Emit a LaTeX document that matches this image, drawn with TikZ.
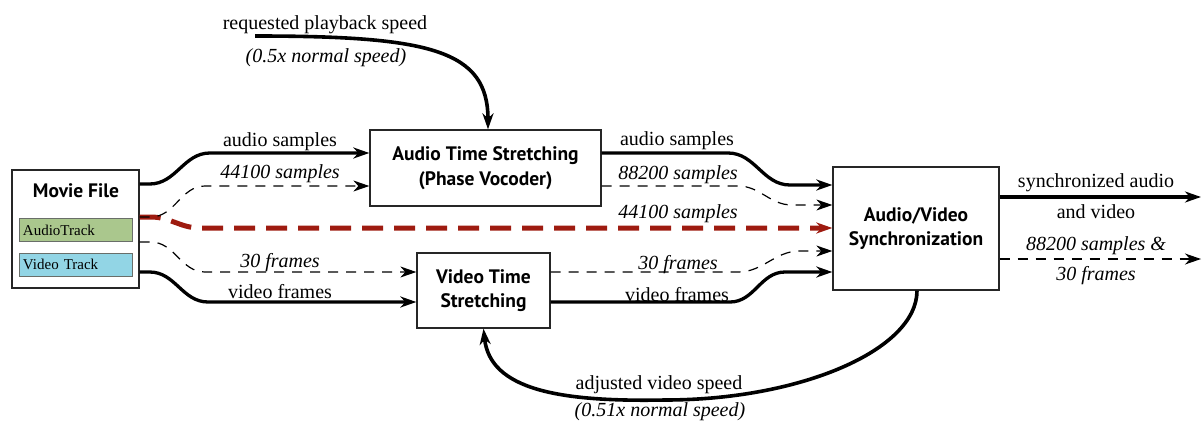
\documentclass[tikz,border=0pt]{standalone}
\usepackage{fontspec}
\setmainfont{Liberation Serif}
\newfontfamily\boxfont{PT Sans}
\usetikzlibrary{arrows.meta,calc}
\definecolor{dred}{RGB}{158,27,16}
\definecolor{agreen}{RGB}{170,199,141}
\definecolor{vblue}{RGB}{146,213,229}
\definecolor{trackedge}{RGB}{105,110,105}
\begin{document}
\begin{tikzpicture}[x=1pt,y=-1pt,
  tip/.style={-{Stealth[length=16pt,width=11pt,inset=5pt]}},
  thk/.style={line width=3.3pt, tip},
  heavy/.style={line width=3.6pt, tip},
  dsh/.style={line width=1.2pt, dash pattern=on 10pt off 8pt, tip},
  reddsh/.style={line width=5pt, dred, dash pattern=on 21pt off 11pt, tip},
  lbl/.style={font=\fontsize{20}{24}\selectfont, inner sep=0pt, anchor=base},
  ilbl/.style={font=\fontsize{20}{24}\selectfont\itshape, inner sep=0pt, anchor=base},
  boxtext/.style={font=\boxfont\bfseries\fontsize{19.5}{24.5}\selectfont},
  box/.style={draw=black!85, line width=1.3pt, align=center, inner sep=0pt, boxtext},
  track/.style={draw=trackedge, line width=1pt, text width=105pt, align=left,
    inner xsep=4pt, inner ysep=0pt, minimum height=23pt,
    font=\fontsize{15}{18}\selectfont}
]
\useasboundingbox (0,0) rectangle (1202,423);

% boxes
\node[box, minimum width=127pt, minimum height=118pt] (movie) at (75.5,229) {};
\node[boxtext, inner sep=0pt] (movielbl) at (76,191) {Movie File};
\node[track, fill=agreen] (atrack) at (75.5,230) {AudioTrack};
\node[track, fill=vblue] (vtrack) at (75.5,264.5) {Video Track};
\node[box, minimum width=231pt, minimum height=76pt] (atime) at (485.5,168) {Audio Time Stretching\\(Phase Vocoder)};
\node[box, minimum width=133pt, minimum height=75pt] (vtime) at (483.5,290.5) {Video Time\\Stretching};
\node[box, minimum width=166pt, minimum height=123pt] (sync) at (916,228.5) {Audio/Video\\Synchronization};

\coordinate (req) at (255,36);
\coordinate (out1) at (1201,197);
\coordinate (out2) at (1201,259);

% top request arrow
\draw[heavy] (req) .. controls (430,36) and (488,50) .. ([xshift=2.5pt]atime.north);
\node[lbl] (reqa) at (325,29) {requested playback speed};
\node[ilbl] (reqb) at (326,62) {(0.5x normal speed)};

% movie -> audio time stretching
\draw[reddsh] (movie.east |- 0,217) -- ++(11,0) to[out=0,in=180] (200,228) -- (sync.west |- 0,228);
\draw[dsh] (movie.east |- 0,217) -- ++(11,0) to[out=0,in=180] (205,186) -- (atime.west |- 0,186);
\draw[thk] (movie.east |- 0,184) -- ++(10,0) to[out=0,in=180] (210,153) -- (atime.west |- 0,153);
\node[lbl] (l1) at (280,146) {audio samples};
\node[ilbl] (l2) at (280,178) {44100 samples};

% movie -> video time stretching
\draw[dsh] (movie.east |- 0,242) -- ++(11,0) to[out=0,in=180] (205,272) -- (vtime.west |- 0,272);
\draw[thk] (movie.east |- 0,272) -- ++(10,0) to[out=0,in=180] (208,302) -- (vtime.west |- 0,302);
\node[ilbl] (l3) at (280,267) {30 frames};
\node[lbl] (l4) at (280,298) {video frames};

% audio time stretching -> sync
\draw[thk] (atime.east |- 0,153) -- (728,153) to[out=0,in=180] (790,185) -- (sync.west |- 0,185);
\draw[dsh] (atime.east |- 0,186) -- (738,186) to[out=0,in=180] (792,205) -- (sync.west |- 0,205);
\node[lbl] (r1) at (677,145) {audio samples};
\node[ilbl] (r2) at (678,179) {88200 samples};
\node[ilbl] (r3) at (678,218) {44100 samples};

% video time stretching -> sync
\draw[dsh] (vtime.east |- 0,272) -- (738,272) to[out=0,in=180] (800,251) -- (sync.west |- 0,251);
\draw[thk] (vtime.east |- 0,302) -- (730,302) to[out=0,in=180] (785,272) -- (sync.west |- 0,272);
\node[ilbl] (r4) at (678,269) {30 frames};
\node[lbl] (r5) at (677,301) {video frames};

% outputs
\draw[thk] (sync.east |- 0,197) -- (out1);
\draw[dsh] (sync.east |- 0,259) -- (out2);
\node[lbl] (o1) at (1096,187) {synchronized audio};
\node[lbl] (o2) at (1096,218) {and video};
\node[ilbl] (o3) at (1096,250) {88200 samples \&};
\node[ilbl] (o4) at (1096,280) {30 frames};

% feedback
\draw[heavy] ([xshift=1pt]sync.south) .. controls (917,350) and (800,400) .. (665,400)
  .. controls (560,402) and (490,390) .. (vtime.south);
\node[lbl] (f1) at (659,389) {adjusted video speed};
\node[ilbl] (f2) at (660,416) {(0.51x normal speed)};
\end{tikzpicture}
\end{document}
